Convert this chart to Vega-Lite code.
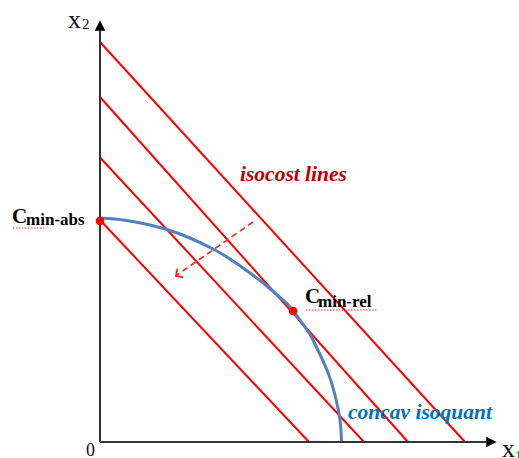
{
  "$schema": "https://vega.github.io/schema/vega-lite/v6.json",
  "width": 400,
  "height": 420,
  "autosize": {"type": "none"},
  "padding": {"left": 100, "top": 22, "right": 19, "bottom": 16},
  "background": "white",
  "config": {"view": {"stroke": null}},
  "datasets": {
    "axes": [
      {"name": "y", "x": 0, "y": 0, "x2": 0, "y2": 414},
      {"name": "x", "x": 0, "y": 0, "x2": 389, "y2": 0}
    ],
    "isocost": [
      {"line": "L1", "x": 0, "y": 222, "x2": 209, "y2": 0},
      {"line": "L2", "x": 0, "y": 284.5, "x2": 264, "y2": 0},
      {"line": "L3", "x": 0, "y": 345, "x2": 308, "y2": 0},
      {"line": "L4", "x": 0, "y": 400, "x2": 365, "y2": 0}
    ],
    "isoquant": [
      {"x": 0, "y": 224}, {"x": 25, "y": 221.8}, {"x": 50, "y": 217}, {"x": 70, "y": 211.5},
      {"x": 90, "y": 204}, {"x": 113, "y": 193}, {"x": 130, "y": 183}, {"x": 150, "y": 169},
      {"x": 168, "y": 155}, {"x": 183, "y": 142}, {"x": 193, "y": 131.5}, {"x": 207, "y": 112},
      {"x": 213, "y": 102}, {"x": 227, "y": 72}, {"x": 235, "y": 47}, {"x": 240, "y": 22},
      {"x": 241.5, "y": 0}
    ],
    "dots": [
      {"name": "Cmin-abs", "x": 0, "y": 221},
      {"name": "Cmin-rel", "x": 193, "y": 131}
    ],
    "shift": [
      {"x": 153, "y": 220, "x2": 77, "y2": 167}
    ],
    "shifthead": [
      {"x": 76, "y": 166}
    ],
    "arrowup": [{"x": 0, "y": 416.5}],
    "arrowright": [{"x": 391.5, "y": 0}],
    "squiggle": [
      {"x": -87, "y": 214, "x2": -56, "y2": 214},
      {"x": 206, "y": 132, "x2": 277, "y2": 132}
    ],
    "bigtext": [
      {"t": "x", "x": -32, "y": 414},
      {"t": "x", "x": 402, "y": -15}
    ],
    "subtext": [
      {"t": "2", "x": -18, "y": 413},
      {"t": "1", "x": 415, "y": -19}
    ],
    "zero": [{"t": "0", "x": -9.5, "y": -14}],
    "cbig": [
      {"t": "C", "x": -88, "y": 219},
      {"t": "C", "x": 205, "y": 139}
    ],
    "csub": [
      {"t": "min-abs", "x": -74, "y": 217},
      {"t": "min-rel", "x": 218, "y": 135}
    ],
    "labels": [
      {"t": "isocost lines", "x": 140, "y": 261, "c": "isocost"},
      {"t": "concav isoquant", "x": 248, "y": 23, "c": "isoquant"}
    ]
  },
  "layer": [
    {
      "data": {"name": "isocost"},
      "mark": {"type": "rule", "color": "#FF0000", "strokeWidth": 2},
      "encoding": {
        "x": {"field": "x", "type": "quantitative", "scale": {"domain": [0, 400], "nice": false, "zero": false}, "axis": null},
        "y": {"field": "y", "type": "quantitative", "scale": {"domain": [0, 420], "nice": false, "zero": false}, "axis": null},
        "x2": {"field": "x2"},
        "y2": {"field": "y2"}
      }
    },
    {
      "data": {"name": "shift"},
      "mark": {"type": "rule", "color": "#FF2020", "strokeWidth": 1.6, "strokeDash": [6, 4]},
      "encoding": {
        "x": {"field": "x", "type": "quantitative"},
        "y": {"field": "y", "type": "quantitative"},
        "x2": {"field": "x2"},
        "y2": {"field": "y2"}
      }
    },
    {
      "data": {"name": "shifthead"},
      "mark": {"type": "point", "shape": "M -1 1 L 0 0 L 1 1", "filled": false, "color": "#FF2020", "strokeWidth": 1.8, "size": 110, "angle": 235, "opacity": 1},
      "encoding": {
        "x": {"field": "x", "type": "quantitative"},
        "y": {"field": "y", "type": "quantitative"}
      }
    },
    {
      "data": {"name": "isoquant"},
      "mark": {"type": "line", "color": "#4F81BD", "strokeWidth": 3, "interpolate": "natural"},
      "encoding": {
        "x": {"field": "x", "type": "quantitative"},
        "y": {"field": "y", "type": "quantitative"}
      }
    },
    {
      "data": {"name": "axes"},
      "mark": {"type": "rule", "color": "#333333", "strokeWidth": 2},
      "encoding": {
        "x": {"field": "x", "type": "quantitative"},
        "y": {"field": "y", "type": "quantitative"},
        "x2": {"field": "x2"},
        "y2": {"field": "y2"}
      }
    },
    {
      "data": {"name": "arrowup"},
      "mark": {"type": "point", "shape": "M 0 -1 L 1 1 L -1 1 Z", "filled": true, "color": "#000000", "size": 110, "opacity": 1},
      "encoding": {
        "x": {"field": "x", "type": "quantitative"},
        "y": {"field": "y", "type": "quantitative"}
      }
    },
    {
      "data": {"name": "arrowright"},
      "mark": {"type": "point", "shape": "M 1 0 L -1 -1 L -1 1 Z", "filled": true, "color": "#000000", "size": 110, "opacity": 1},
      "encoding": {
        "x": {"field": "x", "type": "quantitative"},
        "y": {"field": "y", "type": "quantitative"}
      }
    },
    {
      "data": {"name": "dots"},
      "mark": {"type": "point", "shape": "circle", "filled": true, "color": "#FF0000", "size": 75, "opacity": 1},
      "encoding": {
        "x": {"field": "x", "type": "quantitative"},
        "y": {"field": "y", "type": "quantitative"}
      }
    },
    {
      "data": {"name": "squiggle"},
      "mark": {"type": "rule", "color": "#FF3030", "strokeWidth": 1.2, "strokeDash": [1.5, 1.5]},
      "encoding": {
        "x": {"field": "x", "type": "quantitative"},
        "y": {"field": "y", "type": "quantitative"},
        "x2": {"field": "x2"},
        "y2": {"field": "y2"}
      }
    },
    {
      "data": {"name": "bigtext"},
      "mark": {"type": "text", "font": "Liberation Serif", "fontSize": 26, "align": "left", "baseline": "alphabetic", "color": "#111111"},
      "encoding": {
        "x": {"field": "x", "type": "quantitative"},
        "y": {"field": "y", "type": "quantitative"},
        "text": {"field": "t"}
      }
    },
    {
      "data": {"name": "subtext"},
      "mark": {"type": "text", "font": "Liberation Serif", "fontSize": 15, "align": "left", "baseline": "alphabetic", "color": "#111111"},
      "encoding": {
        "x": {"field": "x", "type": "quantitative"},
        "y": {"field": "y", "type": "quantitative"},
        "text": {"field": "t"}
      }
    },
    {
      "data": {"name": "zero"},
      "mark": {"type": "text", "font": "Liberation Serif", "fontSize": 18, "align": "center", "baseline": "alphabetic", "color": "#111111"},
      "encoding": {
        "x": {"field": "x", "type": "quantitative"},
        "y": {"field": "y", "type": "quantitative"},
        "text": {"field": "t"}
      }
    },
    {
      "data": {"name": "cbig"},
      "mark": {"type": "text", "font": "Liberation Serif", "fontSize": 21, "fontWeight": "bold", "align": "left", "baseline": "alphabetic", "color": "#000000"},
      "encoding": {
        "x": {"field": "x", "type": "quantitative"},
        "y": {"field": "y", "type": "quantitative"},
        "text": {"field": "t"}
      }
    },
    {
      "data": {"name": "csub"},
      "mark": {"type": "text", "font": "Liberation Serif", "fontSize": 17, "fontWeight": "bold", "align": "left", "baseline": "alphabetic", "color": "#000000"},
      "encoding": {
        "x": {"field": "x", "type": "quantitative"},
        "y": {"field": "y", "type": "quantitative"},
        "text": {"field": "t"}
      }
    },
    {
      "data": {"name": "labels"},
      "mark": {"type": "text", "font": "Liberation Serif", "fontSize": 21.5, "fontWeight": "bold", "fontStyle": "italic", "align": "left", "baseline": "alphabetic"},
      "encoding": {
        "x": {"field": "x", "type": "quantitative"},
        "y": {"field": "y", "type": "quantitative"},
        "text": {"field": "t"},
        "color": {"field": "c", "type": "nominal", "scale": {"domain": ["isocost", "isoquant"], "range": ["#C00000", "#0070C0"]}, "legend": null}
      }
    }
  ]
}
